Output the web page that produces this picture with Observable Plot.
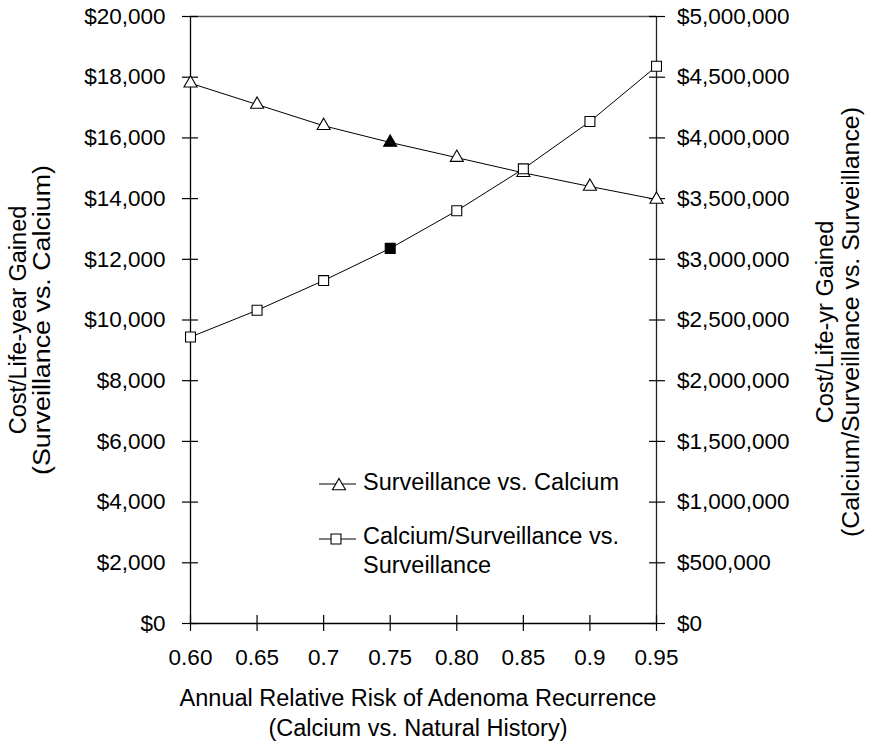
<!DOCTYPE html>
<html><head><meta charset="utf-8">
<script src="https://cdn.jsdelivr.net/npm/d3@7"></script>
<script src="https://cdn.jsdelivr.net/npm/@observablehq/plot@0.6"></script>
<style>
body{margin:0;background:#fff;font-family:"Liberation Sans",Arial,Helvetica,sans-serif;}
#chart{position:relative;width:870px;height:746px;}
</style></head><body><div id="chart"></div>
<script>
// ---- data ----
const riskLevels = [0.60, 0.65, 0.70, 0.75, 0.80, 0.85, 0.90, 0.95];
const xTickLabels = ["0.60", "0.65", "0.7", "0.75", "0.80", "0.85", "0.9", "0.95"];
const survVsCalcium = [17800, 17100, 16400, 15850, 15350, 14850, 14400, 13970];          // left axis
const calcSurvVsSurv = [2360000, 2580000, 2825000, 3090000, 3400000, 3745000, 4135000, 4590000]; // right axis
const baseCaseRisk = 0.75;
const leftTicks = [0, 2000, 4000, 6000, 8000, 10000, 12000, 14000, 16000, 18000, 20000];
const rightTicks = [0, 500000, 1000000, 1500000, 2000000, 2500000, 3000000, 3500000, 4000000, 4500000, 5000000];
const seriesNames = ["Surveillance vs. Calcium", ["Calcium/Surveillance vs.", "Surveillance"]];
const xTitle = ["Annual Relative Risk of Adenoma Recurrence", "(Calcium vs. Natural History)"];
const leftTitle = ["Cost/Life-year Gained", "(Surveillance vs. Calcium)"];
const rightTitle = ["Cost/Life-yr Gained", "(Calcium/Surveillance vs. Surveillance)"];

const RATIO = 5000000 / 20000; // right axis units per left axis unit
const rows = riskLevels.map((x, i) => ({x, tri: survVsCalcium[i], sq: calcSurvVsSurv[i] / RATIO, base: x === baseCaseRisk}));
const fmt = d3.format(",");
const FONT = '"Liberation Sans", Arial, Helvetica, sans-serif';
const TICKFS = 22.5, TITLEFS = 23.5;

const chart = Plot.plot({
  width: 870, height: 746,
  marginLeft: 190, marginRight: 214, marginTop: 16, marginBottom: 123,
  x: {domain: [0.6, 0.95]},
  y: {domain: [0, 20000]},
  style: {fontFamily: FONT, fontSize: TICKFS + "px", color: "#000", background: "#fff", overflow: "visible"},
  marks: [
    Plot.ruleY([20000], {stroke: "#555", strokeWidth: 1.4}),
    Plot.ruleY([0], {stroke: "#000", strokeWidth: 1.3}),
    Plot.ruleX([0.6], {stroke: "#000", strokeWidth: 1.3}),
    Plot.ruleX([0.95], {stroke: "#222", strokeWidth: 1.3}),
    // cross ticks
    Plot.axisY(leftTicks, {anchor: "left", tickSize: 16, dx: 8, tickFormat: () => "", label: null, strokeWidth: 1.2}),
    Plot.axisY(leftTicks, {anchor: "left", tickSize: 0, tickPadding: 25, tickFormat: d => "$" + fmt(d), label: null, fontSize: TICKFS}),
    Plot.axisY(rightTicks.map(d => d / RATIO), {anchor: "right", tickSize: 16, dx: -8, tickFormat: () => "", label: null, strokeWidth: 1.2}),
    Plot.axisY(rightTicks.map(d => d / RATIO), {anchor: "right", tickSize: 0, tickPadding: 20.5, tickFormat: d => "$" + fmt(Math.round(d * RATIO)), label: null, fontSize: TICKFS}),
    Plot.axisX(riskLevels, {anchor: "bottom", tickSize: 16, dy: -8, tickFormat: () => "", label: null, strokeWidth: 1.2}),
    Plot.axisX(riskLevels, {anchor: "bottom", tickSize: 0, tickPadding: 26, tickFormat: d => xTickLabels[riskLevels.indexOf(d)], label: null, fontSize: TICKFS}),
    // series
    Plot.line(rows, {x: "x", y: "tri", stroke: "#000", strokeWidth: 1}),
    Plot.line(rows, {x: "x", y: "sq", stroke: "#000", strokeWidth: 1}),
    Plot.dot(rows.filter(d => !d.base), {x: "x", y: "tri", symbol: "triangle", r: 4.85, fill: "#fff", stroke: "#000", strokeWidth: 1.1}),
    Plot.dot(rows.filter(d => d.base), {x: "x", y: "tri", symbol: "triangle", r: 4.85, fill: "#000", stroke: "#000", strokeWidth: 1.1}),
    Plot.dot(rows.filter(d => !d.base), {x: "x", y: "sq", symbol: "square", r: 5.6, fill: "#fff", stroke: "#000", strokeWidth: 1.1}),
    Plot.dot(rows.filter(d => d.base), {x: "x", y: "sq", symbol: "square", r: 5.6, fill: "#000", stroke: "#000", strokeWidth: 1.1})
  ]
});
document.getElementById("chart").appendChild(chart);

// ---- titles and legend (text) ----
const svg = d3.select(chart);
const g = svg.append("g").attr("font-family", FONT).attr("fill", "#000");
function lines(parent, arr, x, y0, step, anchor, fs, lengths) {
  const t = parent.append("text").attr("text-anchor", anchor).attr("font-size", fs);
  arr.forEach((s, i) => {
    const ts = t.append("tspan").attr("x", x).attr("y", y0 + i * step).text(s);
    if (lengths && lengths[i]) ts.attr("textLength", lengths[i]).attr("lengthAdjust", "spacingAndGlyphs");
  });
}
lines(g, xTitle, 418, 705.5, 30, "middle", TITLEFS);
lines(g.append("g").attr("transform", "translate(0,320) rotate(-90)"), leftTitle, 0, 26.4, 24, "middle", TITLEFS, [null, 310]);
lines(g.append("g").attr("transform", "translate(0,322) rotate(-90)"), rightTitle, 0, 833.4, 26, "middle", TITLEFS, [null, 430]);

// legend
const lg = g.append("g");
const tri = d3.symbol(d3.symbolTriangle, Math.PI * 4.85 * 4.85)();
const sqr = d3.symbol(d3.symbolSquare, Math.PI * 5.6 * 5.6)();
lg.append("line").attr("x1", 319).attr("x2", 356).attr("y1", 484).attr("y2", 484).attr("stroke", "#000");
lg.append("path").attr("d", tri).attr("transform", "translate(339,486)").attr("fill", "#fff").attr("stroke", "#000").attr("stroke-width", 1.1);
lines(lg, [seriesNames[0]], 363, 490.4, 0, "start", TITLEFS);
lg.append("line").attr("x1", 319).attr("x2", 356).attr("y1", 539).attr("y2", 539).attr("stroke", "#000");
lg.append("path").attr("d", sqr).attr("transform", "translate(336,539)").attr("fill", "#fff").attr("stroke", "#000").attr("stroke-width", 1.1);
lines(lg, seriesNames[1], 363, 544.4, 29, "start", TITLEFS);
</script></body></html>
